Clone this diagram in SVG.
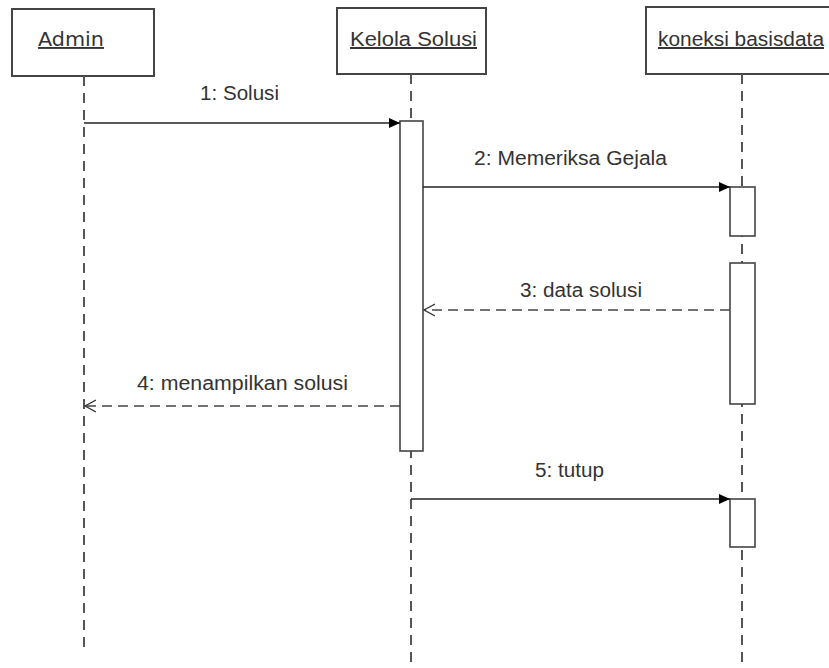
<svg xmlns="http://www.w3.org/2000/svg" width="829" height="668" viewBox="0 0 829 668">
<defs>
<marker id="filled" markerWidth="12" markerHeight="10" refX="11" refY="5" orient="auto" markerUnits="userSpaceOnUse"><path d="M0,0 L11,5 L0,10 Z" fill="#000"/></marker>
<marker id="open" markerWidth="14" markerHeight="14" refX="11" refY="7" orient="auto" markerUnits="userSpaceOnUse"><path d="M0,1 L11,7 L0,13" fill="none" stroke="#333" stroke-width="1.3"/></marker>
</defs>
<style>
.box{fill:#fff;stroke:#444;stroke-width:2}
.life{stroke:#555;stroke-width:2;stroke-dasharray:10,7;fill:none}
.act{fill:#fff;stroke:#444;stroke-width:1.6}
.name{font-family:"Liberation Sans",Arial,sans-serif;font-size:20px;fill:#333;text-decoration:underline}
.adm{font-family:"DejaVu Sans",Verdana,sans-serif;font-size:19px;fill:#333;text-decoration:underline}
.lbl{font-family:"Liberation Sans",Arial,sans-serif;font-size:20px;fill:#333}
.msg{stroke:#222;stroke-width:1.6;fill:none}
.ret{stroke:#444;stroke-width:1.6;fill:none;stroke-dasharray:10,6}
</style>
<rect width="829" height="668" fill="#fff"/>
<g id="admin">
<rect class="box" x="12" y="9" width="142" height="67"/>
<text class="adm" x="38" y="46" textLength="66" lengthAdjust="spacingAndGlyphs">Admin</text>
<line class="life" x1="84" y1="76" x2="84" y2="652"/>
</g>
<g id="kelola">
<rect class="box" x="337" y="8" width="149" height="66"/>
<text class="name" x="350" y="46" textLength="127" lengthAdjust="spacingAndGlyphs">Kelola Solusi</text>
<line class="life" x1="411" y1="74" x2="411" y2="668"/>
<rect class="act" x="400" y="121" width="23" height="330"/>
</g>
<g id="koneksi">
<rect class="box" x="646" y="7" width="190" height="67"/>
<text class="name" x="658" y="46" textLength="166" lengthAdjust="spacingAndGlyphs">koneksi basisdata</text>
<line class="life" x1="742" y1="74" x2="742" y2="668"/>
<rect class="act" x="730" y="187" width="25" height="49"/>
<rect class="act" x="730" y="263" width="25" height="141"/>
<rect class="act" x="730" y="499" width="25" height="48"/>
</g>
<g id="connectors">
<line class="msg" x1="84" y1="123" x2="400" y2="123" marker-end="url(#filled)"/>
<text class="lbl" x="200" y="100" textLength="79" lengthAdjust="spacingAndGlyphs">1: Solusi</text>
<line class="msg" x1="423" y1="187" x2="730" y2="187" marker-end="url(#filled)"/>
<text class="lbl" x="474" y="165" textLength="193" lengthAdjust="spacingAndGlyphs">2: Memeriksa Gejala</text>
<line class="ret" x1="730" y1="310" x2="424" y2="310" marker-end="url(#open)"/>
<text class="lbl" x="520" y="297" textLength="122" lengthAdjust="spacingAndGlyphs">3: data solusi</text>
<line class="ret" x1="400" y1="406" x2="85" y2="406" marker-end="url(#open)"/>
<text class="lbl" x="137" y="390" textLength="211" lengthAdjust="spacingAndGlyphs">4: menampilkan solusi</text>
<line class="msg" x1="411" y1="499" x2="730" y2="499" marker-end="url(#filled)"/>
<text class="lbl" x="535" y="477" textLength="69" lengthAdjust="spacingAndGlyphs">5: tutup</text>
</g>
</svg>
